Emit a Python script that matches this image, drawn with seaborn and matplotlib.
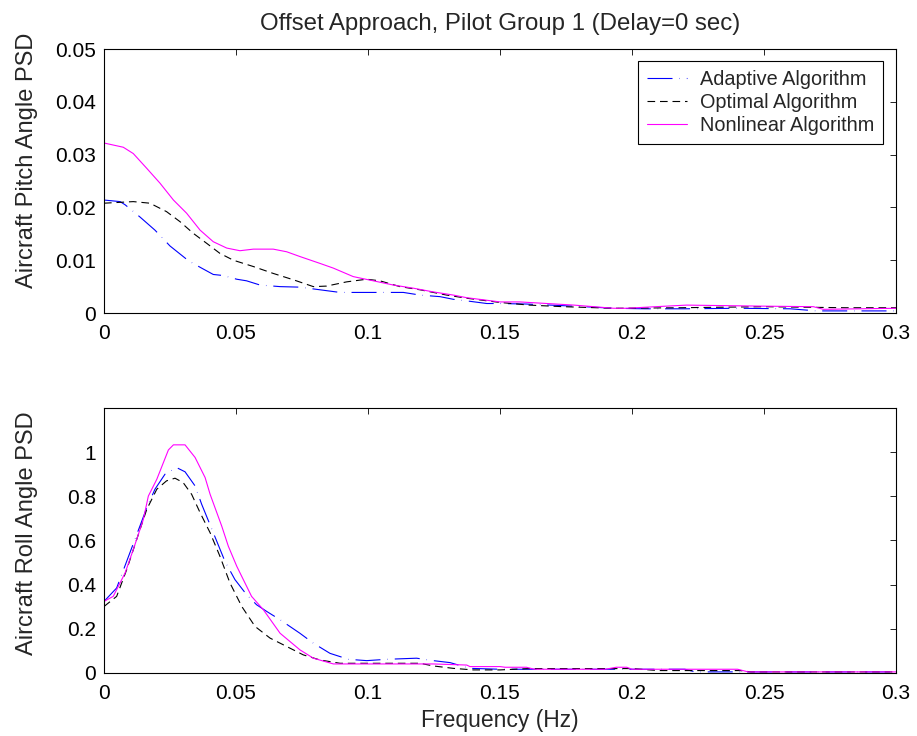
import matplotlib
matplotlib.use("Agg")
import matplotlib.pyplot as plt
import seaborn as sns
import pandas as pd

# ---- tick positions and labels ----
freq_ticks = [0, 0.05, 0.1, 0.15, 0.2, 0.25, 0.3]
freq_tick_labels = ["0", "0.05", "0.1", "0.15", "0.2", "0.25", "0.3"]
pitch_ticks = [0, 0.01, 0.02, 0.03, 0.04, 0.05]
pitch_tick_labels = ["0", "0.01", "0.02", "0.03", "0.04", "0.05"]
roll_ticks = [0, 0.2, 0.4, 0.6, 0.8, 1.0]
roll_tick_labels = ["0", "0.2", "0.4", "0.6", "0.8", "1"]

series_names = ["Adaptive Algorithm", "Optimal Algorithm", "Nonlinear Algorithm"]

# ---- pitch angle PSD ----
pitch_adaptive_f = [0, 0.0061, 0.008, 0.0136, 0.0193, 0.025, 0.03, 0.032, 0.037, 0.0414,
                    0.0452, 0.0503, 0.054, 0.0591, 0.0667, 0.0742, 0.0818, 0.0894, 0.097,
                    0.1058, 0.1134, 0.1197, 0.1273, 0.1323, 0.1374, 0.145, 0.15, 0.16,
                    0.178, 0.193, 0.205, 0.22, 0.24, 0.26, 0.27, 0.3]
pitch_adaptive = [0.0214, 0.0211, 0.0205, 0.0182, 0.0157, 0.0127, 0.0107, 0.0099, 0.0085,
                  0.0073, 0.0071, 0.0064, 0.0061, 0.0053, 0.0050, 0.0049, 0.0044, 0.0039,
                  0.0039, 0.0039, 0.0039, 0.0034, 0.0031, 0.0026, 0.0023, 0.0018, 0.0018,
                  0.0017, 0.0013, 0.0009, 0.0008, 0.0008, 0.0009, 0.0008, 0.0004, 0.0004]

pitch_optimal_f = [0, 0.0111, 0.0174, 0.0237, 0.0288, 0.0338, 0.0389, 0.0439, 0.049, 0.0566,
                   0.0641, 0.0717, 0.0793, 0.0843, 0.0919, 0.0995, 0.1045, 0.1121, 0.1197,
                   0.1298, 0.1374, 0.15, 0.161, 0.174, 0.193, 0.218, 0.25, 0.281, 0.3]
pitch_optimal = [0.0208, 0.0211, 0.0208, 0.0192, 0.0173, 0.0151, 0.0132, 0.0113, 0.0100,
                 0.0088, 0.0075, 0.0063, 0.0050, 0.0051, 0.0059, 0.0064, 0.0061, 0.0050,
                 0.0044, 0.0034, 0.0028, 0.0020, 0.0015, 0.0012, 0.0009, 0.0010, 0.0012,
                 0.0010, 0.0010]

pitch_nonlinear_f = [0, 0.0073, 0.0111, 0.0162, 0.0212, 0.0263, 0.0313, 0.0364, 0.0414,
                     0.0465, 0.0515, 0.0566, 0.0641, 0.0692, 0.0742, 0.0818, 0.0869, 0.0944,
                     0.102, 0.1096, 0.1172, 0.1247, 0.1323, 0.1374, 0.15, 0.1576, 0.178,
                     0.193, 0.198, 0.209, 0.2207, 0.2497, 0.2687, 0.2725, 0.3]
pitch_nonlinear = [0.0322, 0.0314, 0.0302, 0.0274, 0.0246, 0.0214, 0.0189, 0.0157, 0.0135,
                   0.0123, 0.0118, 0.0121, 0.0121, 0.0116, 0.0107, 0.0094, 0.0085, 0.0069,
                   0.0061, 0.0053, 0.0047, 0.0040, 0.0034, 0.0029, 0.0021, 0.0021, 0.0015,
                   0.0009, 0.0009, 0.0012, 0.0015, 0.0013, 0.0012, 0.0007, 0.0009]

# ---- roll angle PSD ----
roll_adaptive_f = [0, 0.0048, 0.0098, 0.0136, 0.0162, 0.0193, 0.0231, 0.0275, 0.0307, 0.0345,
                   0.037, 0.0427, 0.0458, 0.0496, 0.054, 0.0578, 0.0616, 0.0667, 0.0742,
                   0.0793, 0.0856, 0.0926, 0.0995, 0.1071, 0.1184, 0.1247, 0.1311, 0.1386,
                   0.15, 0.2, 0.22, 0.224, 0.3]
roll_adaptive = [0.324, 0.385, 0.544, 0.665, 0.748, 0.832, 0.900, 0.930, 0.911, 0.847, 0.764,
                 0.597, 0.506, 0.423, 0.355, 0.309, 0.279, 0.241, 0.180, 0.135, 0.089, 0.062,
                 0.056, 0.062, 0.067, 0.056, 0.047, 0.021, 0.017, 0.017, 0.017, 0.005, 0.005]

roll_optimal_f = [0, 0.0048, 0.0086, 0.0124, 0.0162, 0.02, 0.0237, 0.0269, 0.03, 0.0332,
                  0.0364, 0.0402, 0.0439, 0.0477, 0.0522, 0.0572, 0.0629, 0.0692, 0.0755,
                  0.0818, 0.0894, 0.0995, 0.1197, 0.1247, 0.1323, 0.1399, 0.15, 0.161, 0.2,
                  0.21, 0.241, 0.245, 0.3]
roll_optimal = [0.301, 0.347, 0.468, 0.605, 0.741, 0.832, 0.870, 0.882, 0.862, 0.809, 0.726,
                0.635, 0.529, 0.408, 0.301, 0.211, 0.158, 0.120, 0.082, 0.059, 0.044, 0.044,
                0.044, 0.032, 0.021, 0.014, 0.014, 0.020, 0.020, 0.011, 0.011, 0.005, 0.005]

roll_nonlinear_f = [0, 0.0035, 0.008, 0.0111, 0.0149, 0.0168, 0.02, 0.0244, 0.0263, 0.0307,
                    0.0345, 0.0383, 0.0402, 0.0446, 0.0471, 0.0503, 0.0559, 0.0604, 0.0667,
                    0.0742, 0.0793, 0.0869, 0.0995, 0.1247, 0.1374, 0.1386, 0.15, 0.152,
                    0.160, 0.163, 0.190, 0.194, 0.198, 0.200, 0.240, 0.244, 0.3]
roll_nonlinear = [0.324, 0.347, 0.453, 0.559, 0.695, 0.801, 0.877, 1.010, 1.033, 1.033,
                  0.976, 0.885, 0.809, 0.665, 0.574, 0.483, 0.347, 0.286, 0.180, 0.105,
                  0.067, 0.041, 0.041, 0.041, 0.036, 0.029, 0.029, 0.026, 0.026, 0.017,
                  0.017, 0.026, 0.026, 0.017, 0.017, 0.005, 0.005]

sns.set_theme(style="white")
plt.rcParams["font.family"] = ["Liberation Sans", "DejaVu Sans"]
plt.rcParams["lines.scale_dashes"] = False
plt.rcParams["axes.edgecolor"] = "black"
plt.rcParams["axes.linewidth"] = 0.8

styles = [
    dict(color="#0000ff", linestyle=(0, (18, 5, 0.3, 5))),
    dict(color="black", linestyle=(0, (5.5, 3.5))),
    dict(color="#ff00ff", linestyle="-"),
]

fig = plt.figure(figsize=(9.17, 7.36), dpi=100)
ax_top = fig.add_axes([0.1134, 0.5747, 0.8637, 0.3587])
ax_bot = fig.add_axes([0.1134, 0.0856, 0.8637, 0.3601])


def draw_panel(ax, freqs, values):
    for name, f, v, st in zip(series_names, freqs, values, styles):
        df = pd.DataFrame({"Frequency": f, "PSD": v})
        sns.lineplot(data=df, x="Frequency", y="PSD", ax=ax, linewidth=0.8,
                     estimator=None, sort=False, **st)
    ax.set_xlim(0, 0.3)
    ax.set_xticks(freq_ticks)
    ax.set_xticklabels(freq_tick_labels)
    ax.tick_params(direction="in", length=4.5, width=0.6, labelsize=15,
                   top=True, right=True, colors="black")
    ax.tick_params(axis="x", pad=8)
    ax.tick_params(axis="y", pad=5.5)
    for sp in ax.spines.values():
        sp.set_visible(True)
        sp.set_color("black")
        sp.set_linewidth(0.8)


draw_panel(ax_top, [pitch_adaptive_f, pitch_optimal_f, pitch_nonlinear_f],
           [pitch_adaptive, pitch_optimal, pitch_nonlinear])
ax_top.set_ylim(0, 0.05)
ax_top.set_yticks(pitch_ticks)
ax_top.set_yticklabels(pitch_tick_labels)
ax_top.set_xlabel("")
ax_top.set_ylabel("Aircraft Pitch Angle PSD", fontsize=17)
ax_top.set_title("Offset Approach, Pilot Group 1 (Delay=0 sec)", fontsize=17.3, pad=14)
ax_top.yaxis.set_label_coords(-0.0836, 0.58)

draw_panel(ax_bot, [roll_adaptive_f, roll_optimal_f, roll_nonlinear_f],
           [roll_adaptive, roll_optimal, roll_nonlinear])
ax_bot.set_ylim(0, 1.2)
ax_bot.set_yticks(roll_ticks)
ax_bot.set_yticklabels(roll_tick_labels)
ax_bot.set_xlabel("Frequency (Hz)", fontsize=16.5, labelpad=4)
ax_bot.set_ylabel("Aircraft Roll Angle PSD", fontsize=17)
ax_bot.yaxis.set_label_coords(-0.0836, 0.528)

leg = ax_top.legend(handles=ax_top.get_lines()[:3], labels=series_names,
                    loc="upper right", bbox_to_anchor=(0.9836, 0.9557),
                    borderaxespad=0, fontsize=14.3, frameon=True, fancybox=False,
                    handlelength=2.0, handletextpad=0.67, borderpad=0.45,
                    labelspacing=0.22)
leg.get_frame().set_edgecolor("black")
leg.get_frame().set_linewidth(0.8)
leg.get_frame().set_alpha(1)

fig.savefig("out.png", dpi=100)
